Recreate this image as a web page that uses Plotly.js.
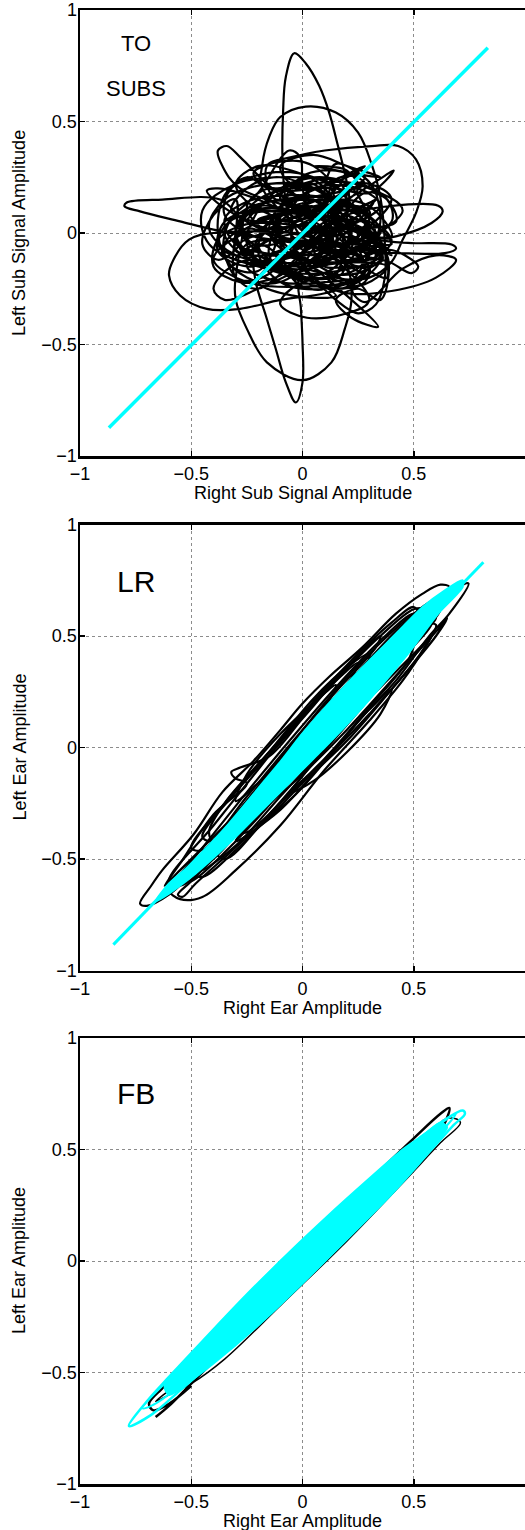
<!DOCTYPE html>
<html>
<head>
<meta charset="utf-8">
<script src="https://cdn.plot.ly/plotly-3.0.1.min.js"></script>
<style>
html,body{margin:0;padding:0;background:#fff;overflow:hidden;}
#chart{width:525px;height:1530px;}
</style>
</head>
<body>
<div id="chart"></div>
<script>
// ---------- Tick values / labels ----------
const tickValues = [-1, -0.5, 0, 0.5, 1];
const tickLabels = ['\u22121', '\u22120.5', '0', '0.5', '1'];

// ---------- Panel 1: TO SUBS (black trajectory segments, [x, y]) ----------
const subSegA = [[0.41,0.28],[0.25,0.18],[0.05,0.07],[-0.15,-0.03],[-0.3,-0.1],[-0.38,-0.05],[-0.33,0.05],[-0.15,0.1],[0.1,0.08],[0.3,0.0],[0.36,-0.1],[0.25,-0.18],[0.05,-0.17],[-0.12,-0.1]];
const subSegB = [[-0.25,0.05],[-0.37,0.15],[-0.63,0.15],[-0.79,0.137],[-0.8,0.12],[-0.73,0.097],[-0.55,0.052],[-0.4,0.015],[-0.2,-0.02],[0.0,-0.05],[0.2,-0.08],[0.32,-0.03],[0.3,0.08],[0.15,0.15],[-0.05,0.17],[-0.25,0.14],[-0.35,0.06],[-0.3,-0.05],[-0.1,-0.1],[0.12,-0.12]];
const subSegC = [[0.2,0.05],[0.21,0.16],[0.187,0.28],[0.157,0.40],[0.12,0.54],[0.075,0.66],[0.015,0.76],[-0.037,0.806],[-0.075,0.70],[-0.087,0.55],[-0.09,0.33],[-0.08,0.18],[-0.05,0.0],[0.0,-0.12]];
const subSegD = [[-0.015,-0.19],[-0.007,-0.34],[0.0,-0.49],[0.0,-0.67],[-0.03,-0.76],[-0.075,-0.67],[-0.12,-0.52],[-0.165,-0.37],[-0.21,-0.22],[-0.22,-0.08],[-0.15,0.05],[0.0,0.1],[0.2,0.06],[0.3,-0.05],[0.26,-0.15],[0.1,-0.2],[-0.1,-0.18],[-0.26,-0.1],[-0.3,0.02],[-0.2,0.12]];
const subSegE = [[-0.28,0.2],[-0.36,0.3],[-0.38,0.37],[-0.34,0.39],[-0.28,0.34],[-0.16,0.22],[-0.045,0.13],[0.1,0.05],[0.2,-0.05],[0.15,-0.15],[0.0,-0.2],[-0.15,-0.15],[-0.28,-0.05]];
const subSegF = [[-0.4,0.0],[-0.51,-0.03],[-0.58,-0.12],[-0.6,-0.19],[-0.55,-0.28],[-0.43,-0.34],[-0.28,-0.34],[-0.1,-0.3],[0.1,-0.27],[0.25,-0.22],[0.35,-0.12],[0.33,0.0],[0.2,0.08],[0.0,0.1],[-0.2,0.06]];
const subSegG = [[-0.18,0.2],[-0.18,0.31],[-0.15,0.43],[-0.1,0.52],[0.015,0.567],[0.15,0.54],[0.25,0.45],[0.31,0.31],[0.35,0.16],[0.37,-0.045],[0.37,-0.2],[0.33,-0.32],[0.25,-0.36],[0.15,-0.3],[0.05,-0.2],[-0.05,-0.08]];
const subSegH = [[-0.12,0.15],[-0.16,0.3],[-0.05,0.34],[0.1,0.37],[0.31,0.39],[0.43,0.39],[0.51,0.33],[0.54,0.21],[0.51,0.09],[0.45,-0.03],[0.4,-0.13],[0.3,-0.2],[0.15,-0.2],[0.0,-0.12],[-0.1,0.0]];
const subSegI = [[-0.25,-0.05],[-0.3,-0.2],[-0.3,-0.3],[-0.25,-0.43],[-0.16,-0.58],[0.0,-0.66],[0.13,-0.58],[0.19,-0.43],[0.22,-0.3],[0.2,-0.15],[0.1,-0.05],[0.0,0.02]];
const subSegJ = [[0.15,0.05],[0.34,-0.03],[0.49,-0.045],[0.67,-0.052],[0.69,-0.07],[0.64,-0.09],[0.43,-0.09],[0.25,-0.08],[0.1,0.0],[0.2,0.08],[0.39,0.12],[0.61,0.122],[0.63,0.097],[0.58,0.045],[0.42,-0.015],[0.3,-0.03],[0.2,-0.1],[0.3,-0.12],[0.39,-0.075],[0.52,-0.15],[0.49,-0.18],[0.39,-0.13],[0.25,-0.1]];
const subSegK = [[0.05,-0.05],[-0.15,0.0],[-0.3,0.08],[-0.4,0.15],[-0.43,0.19],[-0.38,0.2],[-0.2,0.15],[0.0,0.05],[0.15,-0.05],[0.3,-0.15],[0.28,-0.22],[0.13,-0.25],[-0.05,-0.2],[-0.2,-0.12],[-0.32,-0.15],[-0.4,-0.25],[-0.35,-0.3],[-0.2,-0.25],[0.0,-0.15],[0.15,0.0],[0.2,0.15],[0.15,0.24],[0.0,0.22],[-0.15,0.15],[-0.25,0.05]];
const subSegL = [[-0.2,-0.1],[0.0,-0.2],[0.2,-0.27],[0.4,-0.26],[0.6,-0.2],[0.69,-0.12],[0.6,-0.1],[0.45,-0.16],[0.28,-0.31],[0.22,-0.25],[0.3,-0.1],[0.35,0.05],[0.32,0.2],[0.25,0.27],[0.15,0.31],[0.1,0.2],[0.12,0.0],[0.05,-0.15]];
const subSegM = [[-0.1,-0.22],[-0.25,-0.2],[-0.35,-0.1],[-0.33,0.05],[-0.2,0.18],[-0.06,0.37],[-0.01,0.34],[0.0,0.2],[0.05,0.05],[0.15,-0.1],[0.25,-0.05],[0.28,0.1],[0.2,0.22],[0.05,0.25],[-0.1,0.2],[-0.2,0.1],[-0.25,-0.05],[-0.15,-0.15],[0.05,-0.12],[0.25,-0.02]];
const subSegN1 = [[0.35,0.0],[0.25,0.11],[0.0,0.15],[-0.25,0.11],[-0.35,0.0],[-0.25,-0.11],[0.0,-0.15],[0.25,-0.11]];
const subSegN2 = [[0.4,-0.02],[0.3,0.12],[0.1,0.15],[-0.12,0.08],[-0.2,-0.08],[-0.1,-0.22],[0.1,-0.25],[0.3,-0.17]];
const subSegN3 = [[0.15,0.1],[0.05,0.2],[-0.15,0.22],[-0.35,0.15],[-0.42,0.02],[-0.3,-0.1],[-0.1,-0.12],[0.1,-0.03]];
const subSegN4 = [[0.42,0.05],[0.35,0.18],[0.15,0.23],[-0.05,0.18],[-0.12,0.05],[-0.05,-0.1],[0.15,-0.13],[0.35,-0.07]];
const subSegN5 = [[0.38,-0.1],[0.25,0.0],[0.0,0.03],[-0.3,-0.02],[-0.4,-0.12],[-0.25,-0.22],[0.0,-0.24],[0.25,-0.2]];
const subSegN6 = [[0.2,0.15],[0.05,0.25],[-0.15,0.27],[-0.32,0.2],[-0.35,0.08],[-0.2,-0.02],[0.0,-0.02],[0.15,0.05]];
const subSegN7 = [[0.4,-0.05],[0.3,0.05],[0.15,0.05],[0.02,-0.05],[0.0,-0.15],[0.12,-0.24],[0.28,-0.23],[0.38,-0.15]];
const subSegN8 = [[0.0,-0.05],[-0.1,0.03],[-0.25,0.04],[-0.38,-0.03],[-0.4,-0.15],[-0.28,-0.22],[-0.12,-0.2],[-0.02,-0.12]];
const subSegN9 = [[0.15,0.2],[0.0,0.25],[-0.08,0.15],[-0.1,-0.05],[-0.03,-0.22],[0.1,-0.25],[0.18,-0.12],[0.2,0.05]];
const subSegN10 = [[0.4,0.15],[0.3,0.22],[0.15,0.2],[0.1,0.05],[0.15,-0.1],[0.3,-0.12],[0.4,-0.03]];
const subSegN11 = [[-0.15,0.2],[-0.25,0.25],[-0.35,0.17],[-0.38,0.0],[-0.32,-0.15],[-0.2,-0.17],[-0.12,-0.05],[-0.12,0.1]];
const subSegN12 = [[0.3,0.1],[0.1,0.12],[-0.1,0.08],[-0.28,0.0],[-0.3,-0.08],[-0.1,-0.1],[0.15,-0.06],[0.32,0.0]];
const subSegN13 = [[0.05,0.12],[-0.1,0.05],[-0.15,-0.1],[-0.05,-0.2],[0.15,-0.18],[0.25,-0.05],[0.2,0.08]];
const subSegN14 = [[0.45,0.1],[0.3,0.2],[0.0,0.25],[-0.3,0.22],[-0.45,0.1],[-0.42,-0.05],[-0.2,-0.15],[0.1,-0.18],[0.35,-0.1]];
const subSegN15 = [[0.1,0.2],[-0.05,0.28],[-0.2,0.3],[-0.3,0.22],[-0.22,0.12],[0.0,0.1],[0.15,0.12],[0.25,0.2],[0.2,0.28],[0.05,0.3]];
const subSegP1 = [[0.3,0.05],[0.2,0.14],[0.0,0.16],[-0.2,0.12],[-0.28,0.02],[-0.2,-0.08],[0.0,-0.1],[0.2,-0.06]];
const subSegP2 = [[0.32,-0.12],[0.2,-0.02],[0.0,0.0],[-0.18,-0.05],[-0.25,-0.15],[-0.1,-0.22],[0.1,-0.22],[0.28,-0.18]];
const subSegP3 = [[0.1,0.18],[-0.05,0.2],[-0.2,0.15],[-0.28,0.05],[-0.22,-0.05],[-0.05,-0.03],[0.1,0.05],[0.18,0.12]];
const subSegP4 = [[0.35,0.12],[0.25,0.2],[0.05,0.2],[-0.05,0.1],[0.0,-0.02],[0.15,-0.05],[0.3,0.0]];
const subSegP5 = [[-0.05,0.05],[-0.2,0.1],[-0.35,0.05],[-0.38,-0.08],[-0.25,-0.15],[-0.08,-0.1],[0.05,-0.02]];
const subSegP6 = [[0.25,-0.25],[0.1,-0.2],[-0.05,-0.25],[-0.1,-0.32],[0.02,-0.38],[0.2,-0.36],[0.3,-0.3]];
const subSegP7 = [[0.34,-0.42],[0.22,-0.38],[0.15,-0.3],[0.25,-0.25],[0.35,-0.3]];
const subSegP8 = [[0.05,0.3],[-0.1,0.32],[-0.22,0.27],[-0.15,0.2],[0.05,0.2],[0.2,0.25],[0.28,0.3]];
const subSegP9 = [[0.4,0.05],[0.38,0.15],[0.28,0.18],[0.2,0.08],[0.25,-0.05],[0.35,-0.08]];
const subSegP10 = [[-0.3,0.15],[-0.4,0.08],[-0.45,-0.05],[-0.38,-0.12],[-0.28,-0.05],[-0.25,0.08]];
const subSegP11 = [[0.15,0.1],[0.05,0.15],[-0.1,0.12],[-0.15,0.0],[-0.05,-0.1],[0.1,-0.12],[0.2,-0.05],[0.22,0.05]];
const subSegP12 = [[0.3,-0.2],[0.15,-0.12],[0.0,-0.1],[-0.15,-0.15],[-0.2,-0.22],[-0.05,-0.28],[0.15,-0.28]];
const subSegP13 = [[-0.1,0.25],[-0.25,0.2],[-0.32,0.1],[-0.2,0.05],[0.0,0.08],[0.1,0.15],[0.05,0.22]];
const subSegP14 = [[0.28,0.22],[0.15,0.28],[0.0,0.25],[0.05,0.15],[0.2,0.1],[0.32,0.14]];
const subSegP15 = [[0.38,-0.2],[0.25,-0.15],[0.1,-0.15],[0.05,-0.05],[0.15,0.02],[0.3,0.0],[0.4,-0.1]];
const subSegP16 = [[-0.2,-0.25],[-0.3,-0.2],[-0.35,-0.05],[-0.25,0.02],[-0.1,-0.05],[-0.08,-0.18]];
const subSegP17 = [[0.2,0.0],[0.05,0.08],[-0.1,0.05],[-0.2,-0.05],[-0.1,-0.15],[0.08,-0.15],[0.22,-0.08]];
const subSegQ1 = [[0.3,0.08],[0.15,0.12],[0.0,0.08],[-0.05,-0.02],[0.05,-0.1],[0.2,-0.1],[0.32,-0.03]];
const subSegQ2 = [[0.25,-0.1],[0.1,-0.05],[-0.05,-0.08],[-0.1,-0.16],[0.0,-0.2],[0.18,-0.18]];
const subSegQ3 = [[0.1,0.02],[-0.05,0.1],[-0.22,0.1],[-0.3,0.0],[-0.22,-0.1],[-0.05,-0.06]];
const subSegQ4 = [[0.33,0.15],[0.22,0.1],[0.12,0.15],[0.15,0.24],[0.28,0.25]];
const subSegQ5 = [[-0.15,0.0],[-0.25,0.12],[-0.15,0.2],[0.0,0.15],[0.05,0.03],[-0.05,-0.05]];
const subSegQ6 = [[0.35,-0.05],[0.28,0.05],[0.18,0.02],[0.15,-0.08],[0.25,-0.15],[0.36,-0.12]];
const subSegQ7 = [[0.05,-0.12],[-0.08,-0.05],[-0.12,0.05],[-0.02,0.1],[0.12,0.05],[0.15,-0.05]];
const subSegQ8 = [[-0.3,-0.12],[-0.2,-0.05],[-0.1,-0.12],[-0.18,-0.2],[-0.3,-0.2]];
const subSegQ9 = [[0.2,0.18],[0.05,0.12],[-0.1,0.15],[-0.05,0.22],[0.1,0.24]];
const subSegQ10 = [[0.0,0.0],[0.1,0.1],[0.25,0.08],[0.3,-0.02],[0.2,-0.08],[0.05,-0.05]];
const subSegP18 = [[0.35,0.25],[0.2,0.3],[0.05,0.35],[-0.1,0.3],[-0.05,0.22],[0.15,0.2],[0.3,0.18],[0.41,0.28]];
const subCyanLine = [[-0.87,-0.873],[0.833,0.831]];

// ---------- Panel 2: LR ----------
const lrLoop1 = [[-0.73,-0.70],[-0.68,-0.62],[-0.63,-0.55],[-0.49,-0.39],[-0.36,-0.2],[-0.22,-0.06],[-0.1,0.078],[0.0,0.197],[0.12,0.317],[0.27,0.45],[0.42,0.6],[0.54,0.69],[0.62,0.73],[0.66,0.72],[0.62,0.66],[0.5,0.55],[0.35,0.4],[0.15,0.18],[-0.05,-0.05],[-0.25,-0.3],[-0.45,-0.52],[-0.6,-0.66],[-0.7,-0.71],[-0.73,-0.70]];
const lrLoop2 = [[-0.54,-0.67],[-0.48,-0.61],[-0.33,-0.475],[-0.18,-0.34],[-0.03,-0.21],[0.12,-0.04],[0.27,0.14],[0.42,0.3],[0.57,0.5],[0.66,0.6],[0.746,0.735],[0.72,0.73],[0.6,0.62],[0.45,0.45],[0.25,0.22],[0.05,0.0],[-0.15,-0.22],[-0.35,-0.44],[-0.5,-0.6],[-0.56,-0.66],[-0.54,-0.67]];
const lrLoop3 = [[-0.6,-0.64],[-0.55,-0.68],[-0.45,-0.67],[-0.3,-0.55],[-0.1,-0.35],[0.1,-0.1],[0.3,0.12],[0.45,0.3],[0.55,0.45],[0.6,0.55],[0.55,0.55],[0.4,0.42],[0.2,0.2],[0.0,-0.02],[-0.2,-0.25],[-0.4,-0.47],[-0.55,-0.6],[-0.6,-0.64]];
const lrLoop4 = [[-0.25,-0.16],[-0.3,-0.14],[-0.32,-0.11],[-0.28,-0.09],[-0.15,-0.04],[0.0,0.13],[0.15,0.3],[0.35,0.5],[0.5,0.62],[0.55,0.62],[0.45,0.5],[0.25,0.28],[0.05,0.05],[-0.15,-0.15],[-0.35,-0.35],[-0.55,-0.55],[-0.62,-0.62],[-0.55,-0.52],[-0.4,-0.3],[-0.25,-0.16]];
const lrLoop5 = [[-0.6,-0.6],[-0.4,-0.35],[-0.2,-0.1],[0.0,0.15],[0.2,0.37],[0.4,0.56],[0.5,0.63],[0.52,0.6],[0.4,0.45],[0.2,0.2],[0.0,-0.06],[-0.2,-0.28],[-0.4,-0.5],[-0.55,-0.62],[-0.6,-0.6]];
const lrLoop6 = [[-0.5,-0.56],[-0.3,-0.3],[-0.1,-0.05],[0.1,0.2],[0.3,0.42],[0.5,0.6],[0.6,0.66],[0.62,0.62],[0.5,0.48],[0.3,0.25],[0.1,0.0],[-0.1,-0.25],[-0.3,-0.46],[-0.45,-0.58],[-0.5,-0.56]];
const lrLoop7 = [[-0.35,-0.25],[-0.15,-0.02],[0.05,0.22],[0.2,0.36],[0.3,0.42],[0.28,0.35],[0.15,0.18],[-0.05,-0.08],[-0.25,-0.32],[-0.4,-0.42],[-0.42,-0.38],[-0.35,-0.25]];
const lrLoop8 = [[-0.2,-0.25],[0.0,-0.03],[0.2,0.18],[0.4,0.38],[0.5,0.48],[0.48,0.4],[0.3,0.18],[0.1,-0.05],[-0.1,-0.25],[-0.25,-0.38],[-0.3,-0.38],[-0.2,-0.25]];
const lrLoop9 = [[-0.45,-0.4],[-0.3,-0.2],[-0.1,0.02],[0.1,0.25],[0.25,0.38],[0.2,0.28],[0.0,0.05],[-0.2,-0.2],[-0.4,-0.42],[-0.45,-0.4]];
const lrLoop10 = [[0.0,-0.12],[0.2,0.08],[0.4,0.3],[0.6,0.52],[0.65,0.58],[0.6,0.5],[0.4,0.26],[0.2,0.03],[0.0,-0.16],[-0.2,-0.36],[-0.3,-0.42],[-0.2,-0.3],[0.0,-0.12]];
const lrLoop11 = [[-0.55,-0.6],[-0.35,-0.36],[-0.15,-0.12],[0.05,0.12],[0.25,0.34],[0.45,0.55],[0.55,0.62],[0.5,0.55],[0.3,0.3],[0.1,0.06],[-0.1,-0.2],[-0.3,-0.42],[-0.5,-0.6],[-0.55,-0.6]];
const lrLoop12 = [[-0.4,-0.45],[-0.2,-0.23],[0.0,0.0],[0.2,0.22],[0.4,0.44],[0.55,0.58],[0.58,0.56],[0.45,0.4],[0.25,0.16],[0.05,-0.07],[-0.15,-0.3],[-0.35,-0.5],[-0.4,-0.45]];
const lrLoop13 = [[-0.25,-0.12],[-0.1,0.06],[0.05,0.2],[0.15,0.28],[0.1,0.18],[-0.05,0.0],[-0.2,-0.16],[-0.3,-0.24],[-0.25,-0.12]];
const lrLoop14 = [[0.05,-0.1],[0.15,0.0],[0.3,0.17],[0.4,0.26],[0.35,0.15],[0.2,-0.02],[0.05,-0.15],[-0.05,-0.2],[0.05,-0.1]];
const lrLoop15 = [[-0.62,-0.66],[-0.45,-0.45],[-0.25,-0.2],[-0.05,0.04],[0.15,0.27],[0.35,0.48],[0.5,0.6],[0.52,0.58],[0.38,0.43],[0.18,0.2],[-0.02,-0.04],[-0.22,-0.28],[-0.42,-0.5],[-0.62,-0.66]];
const lrLoop16 = [[-0.45,-0.55],[-0.25,-0.32],[-0.05,-0.1],[0.15,0.13],[0.35,0.34],[0.55,0.55],[0.6,0.58],[0.5,0.46],[0.3,0.23],[0.1,0.0],[-0.1,-0.22],[-0.3,-0.44],[-0.45,-0.55]];
const lrLoop17 = [[-0.5,-0.45],[-0.35,-0.25],[-0.15,-0.02],[0.05,0.2],[0.2,0.36],[0.35,0.5],[0.33,0.45],[0.15,0.25],[-0.05,0.02],[-0.25,-0.22],[-0.45,-0.46],[-0.5,-0.45]];
const lrLoop18 = [[-0.3,-0.42],[-0.1,-0.2],[0.1,0.02],[0.3,0.22],[0.5,0.42],[0.58,0.5],[0.5,0.38],[0.3,0.15],[0.1,-0.06],[-0.1,-0.28],[-0.3,-0.42]];
const lrCyanBand = [[-0.66,-0.69],[-0.6,-0.61],[-0.48,-0.505],[-0.33,-0.34],[-0.18,-0.16],[-0.1,-0.064],[0.0,0.063],[0.12,0.2],[0.27,0.36],[0.42,0.51],[0.54,0.63],[0.64,0.705],[0.72,0.75],[0.72,0.72],[0.61,0.6],[0.49,0.44],[0.34,0.26],[0.19,0.093],[0.06,-0.04],[-0.06,-0.16],[-0.18,-0.28],[-0.33,-0.43],[-0.48,-0.565],[-0.6,-0.655],[-0.66,-0.69]];
const lrCyanLine = [[-0.85,-0.884],[0.813,0.831]];

// ---------- Panel 3: FB ----------
const fbLoop1 = [[-0.66,-0.70],[-0.6,-0.65],[-0.5,-0.55],[-0.3,-0.35],[0.0,-0.07],[0.3,0.22],[0.5,0.43],[0.62,0.58],[0.66,0.686],[0.62,0.66],[0.5,0.55],[0.3,0.36],[0.0,0.07],[-0.3,-0.22],[-0.5,-0.42],[-0.62,-0.56],[-0.69,-0.64],[-0.67,-0.67],[-0.6,-0.64],[-0.5,-0.56]];
const fbLoop2 = [[-0.6,-0.6],[-0.66,-0.63],[-0.6,-0.58],[-0.4,-0.42],[-0.1,-0.12],[0.2,0.13],[0.45,0.38],[0.6,0.55],[0.63,0.63],[0.68,0.64],[0.71,0.62],[0.62,0.53],[0.45,0.35],[0.2,0.09],[-0.1,-0.2],[-0.35,-0.44],[-0.5,-0.55],[-0.6,-0.6]];
const fbCyanBand = [[-0.62,-0.56],[-0.5,-0.42],[-0.3,-0.21],[-0.1,0.0],[0.1,0.19],[0.3,0.37],[0.45,0.5],[0.55,0.57],[0.62,0.62],[0.65,0.6],[0.56,0.49],[0.4,0.31],[0.2,0.1],[0.0,-0.1],[-0.2,-0.29],[-0.4,-0.46],[-0.52,-0.55],[-0.6,-0.6],[-0.62,-0.56]];
const fbCyanLoop = [[-0.78,-0.74],[-0.7,-0.63],[-0.6,-0.52],[-0.45,-0.36],[-0.2,-0.1],[0.1,0.18],[0.35,0.4],[0.55,0.57],[0.65,0.64],[0.72,0.675],[0.73,0.66],[0.68,0.61],[0.58,0.5],[0.4,0.3],[0.15,0.05],[-0.15,-0.24],[-0.4,-0.45],[-0.55,-0.58],[-0.68,-0.69],[-0.78,-0.74]];
const fbCyanLoop2 = [[-0.72,-0.66],[-0.62,-0.55],[-0.45,-0.4],[-0.2,-0.15],[0.1,0.14],[0.4,0.42],[0.6,0.6],[0.69,0.66],[0.66,0.62],[0.55,0.51],[0.3,0.25],[0.0,-0.05],[-0.3,-0.34],[-0.55,-0.56],[-0.68,-0.65],[-0.72,-0.66]];

// ---------- Text ----------
const panelTitles = [['TO', 'SUBS'], ['LR'], ['FB']];
const yTitles = ['Left Sub Signal Amplitude', 'Left Ear Amplitude', 'Left Ear Amplitude'];
const xTitles = ['Right Sub Signal Amplitude', 'Right Ear Amplitude', 'Right Ear Amplitude'];

// ---------- Build ----------
const BLACK = '#000000', CYAN = '#00FFFF';
function xs(arr){ return arr.map(p => p[0]); }
function ys(arr){ return arr.map(p => p[1]); }
function cat(list){ return [].concat(...list); }

const subBlack = cat([subSegA, subSegP1, subSegB, subSegQ1, subSegP2, subSegC, subSegN1, subSegQ2, subSegP3, subSegD, subSegN2, subSegQ3,
  subSegP4, subSegE, subSegN3, subSegQ4, subSegP5, subSegF, subSegN4, subSegQ5, subSegP6, subSegG, subSegP7, subSegN5, subSegQ6,
  subSegP8, subSegH, subSegN6, subSegQ7, subSegP9, subSegI, subSegN7, subSegQ8, subSegP10, subSegJ, subSegN8, subSegQ9, subSegP11,
  subSegK, subSegN9, subSegQ10, subSegP12, subSegL, subSegN10, subSegP13, subSegN11, subSegP14, subSegM, subSegN12, subSegP15,
  subSegN13, subSegP16, subSegN14, subSegP17, subSegN15, subSegP18]);

const traces = [];
function axId(i, c){ return i === 1 ? c : c + i; }
function line(arr, i, color, width, spline){
  traces.push({type:'scatter', mode:'lines', x: xs(arr), y: ys(arr), xaxis: axId(i,'x'), yaxis: axId(i,'y'),
    line:{color: color, width: width, shape: spline ? 'spline' : 'linear', smoothing: 1}, hoverinfo:'skip', showlegend:false});
}
function band(arr, i, color){
  traces.push({type:'scatter', mode:'lines', x: xs(arr), y: ys(arr), xaxis: axId(i,'x'), yaxis: axId(i,'y'), fill:'toself', fillcolor: color,
    line:{color: color, width: 2, shape:'spline', smoothing: 0.8}, hoverinfo:'skip', showlegend:false});
}

// Panel 1
line(subBlack, 1, BLACK, 2.2, true);
line(subCyanLine, 1, CYAN, 3.5, false);
// Panel 2
[lrLoop1, lrLoop2, lrLoop3, lrLoop4, lrLoop5, lrLoop6, lrLoop7, lrLoop8, lrLoop9, lrLoop10, lrLoop11, lrLoop12, lrLoop13, lrLoop14,
 lrLoop15, lrLoop16, lrLoop17, lrLoop18].forEach(l => line(l, 2, BLACK, 2.2, true));
band(lrCyanBand, 2, CYAN);
line(lrCyanLine, 2, CYAN, 3, false);
// Panel 3
line(fbLoop1, 3, BLACK, 2.5, true);
line(fbLoop2, 3, BLACK, 1.5, true);
band(fbCyanBand, 3, CYAN);
line(fbCyanLoop, 3, CYAN, 2.5, true);
line(fbCyanLoop2, 3, CYAN, 2, true);

const FONT = 'Liberation Sans, Arial, Helvetica, sans-serif';
const H = 1530;
const plotTop = [10, 524.5, 1038];
const plotBottom = [456, 970.5, 1484];
const domains = plotTop.map((t, i) => [1 - plotBottom[i]/H, 1 - t/H]);

function xAxis(i){
  return {domain:[0,1], range:[-1,1], anchor: axId(i+1,'y'), tickmode:'array', tickvals: tickValues, ticktext: tickLabels,
    ticks:'inside', ticklen:5, tickwidth:1.5, tickcolor:'#000', showline:true, linecolor:'#000', linewidth:2.5, mirror:'ticks',
    showgrid:true, gridcolor:'#8c8c8c', gridwidth:1, griddash:'dot', zeroline:false,
    tickfont:{family:FONT, size:18, color:'#000'}};
}
function yAxis(i){
  return {domain: domains[i], range:[-1,1], anchor: axId(i+1,'x'), tickmode:'array', tickvals: tickValues, ticktext: tickLabels,
    ticks:'inside', ticklen:5, tickwidth:1.5, tickcolor:'#000', showline:true, linecolor:'#000', linewidth:2.5, mirror:false,
    showgrid:true, gridcolor:'#8c8c8c', gridwidth:1, griddash:'dot', zeroline:false, ticklabelstandoff:-3,
    tickfont:{family:FONT, size:18, color:'#000'}};
}

const annotations = [
  {text: panelTitles[0][0], x:-0.75, y:0.85, xref:'x', yref:'y', size:22},
  {text: panelTitles[0][1], x:-0.75, y:0.65, xref:'x', yref:'y', size:22},
  {text: panelTitles[1][0], x:-0.75, y:0.745, xref:'x2', yref:'y2', size:30},
  {text: panelTitles[2][0], x:-0.75, y:0.75, xref:'x3', yref:'y3', size:30}
].map(a => ({text:a.text, x:a.x, y:a.y, xref:a.xref, yref:a.yref, showarrow:false, xanchor:'center', yanchor:'middle',
  font:{family:FONT, size:a.size, color:'#000'}}));

// axis titles
for (let i = 0; i < 3; i++) {
  annotations.push({text: xTitles[i], x: 0, xref: axId(i+1,'x'), y: 1 - (plotBottom[i] + 37)/H, yref:'paper',
    showarrow:false, xanchor:'center', yanchor:'middle', font:{family:FONT, size:18, color:'#000'}});
  annotations.push({text: yTitles[i], x: (19 - 80)/445, xref:'paper', y: 0, yref: axId(i+1,'y'), textangle:-90,
    showarrow:false, xanchor:'center', yanchor:'middle', font:{family:FONT, size:18, color:'#000'}});
}

const layout = {
  width:525, height:H, margin:{l:80, r:0, t:0, b:0, pad:0},
  paper_bgcolor:'#fff', plot_bgcolor:'#fff', showlegend:false,
  xaxis: xAxis(0), yaxis: yAxis(0),
  xaxis2: xAxis(1), yaxis2: yAxis(1),
  xaxis3: xAxis(2), yaxis3: yAxis(2),
  annotations: annotations
};

Plotly.newPlot('chart', traces, layout, {staticPlot:true, displayModeBar:false});
</script>
</body>
</html>
